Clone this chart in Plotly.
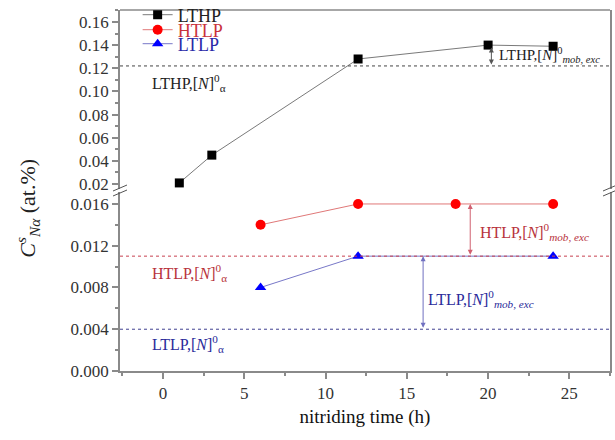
import plotly.graph_objects as go

# ---- data ----
lthp_t = [1, 3, 12, 20, 24]
lthp_c = [0.021, 0.045, 0.128, 0.140, 0.139]
htlp_t = [6, 12, 18, 24]
htlp_c = [0.014, 0.016, 0.016, 0.016]
ltlp_t = [6, 12, 24]
ltlp_c = [0.008, 0.011, 0.011]

lthp_alpha = 0.122
htlp_alpha = 0.011
ltlp_alpha = 0.004

x_ticks = [0, 5, 10, 15, 20, 25]
y_up_ticks = [0.02, 0.04, 0.06, 0.08, 0.10, 0.12, 0.14, 0.16]
y_lo_ticks = [0.000, 0.004, 0.008, 0.012, 0.016]

FONT = "Liberation Serif"
AX = "#8a8a8a"
TXT = "#333333"
RED_T = "#b8323c"
BLUE_T = "#2a2a9a"

fig = go.Figure()

fig.add_trace(go.Scatter(x=lthp_t, y=lthp_c, xaxis="x", yaxis="y2", mode="lines+markers",
                         name="LTHP", legend="legend", line=dict(color="#7a7a7a", width=1),
                         marker=dict(symbol="square", size=9, color="black")))
fig.add_trace(go.Scatter(x=htlp_t, y=htlp_c, xaxis="x", yaxis="y", mode="lines+markers",
                         name="HTLP", legend="legend2",
                         line=dict(color="#e07878", width=1),
                         marker=dict(symbol="circle", size=10, color="#ff0000")))
fig.add_trace(go.Scatter(x=ltlp_t, y=ltlp_c, xaxis="x", yaxis="y", mode="lines+markers",
                         name="LTLP", legend="legend3",
                         line=dict(color="#7878c8", width=1),
                         marker=dict(symbol="triangle-up", size=10, color="#0000ff")))

# reference (alpha) lines
shapes = [
    dict(type="line", xref="paper", x0=0, x1=1, yref="y2", y0=lthp_alpha, y1=lthp_alpha,
         line=dict(color="#444444", width=1, dash="dot")),
    dict(type="line", xref="paper", x0=0, x1=1, yref="y", y0=htlp_alpha, y1=htlp_alpha,
         line=dict(color="#c84050", width=1, dash="dot")),
    dict(type="line", xref="paper", x0=0, x1=1, yref="y", y0=ltlp_alpha, y1=ltlp_alpha,
         line=dict(color="#404090", width=1, dash="dot")),
    # top frame line
    dict(type="line", xref="paper", x0=0, x1=1, yref="paper", y0=1, y1=1,
         line=dict(color=AX, width=1.5)),
]
# axis-break slashes
px_x = 1 / 490.0
px_y = 1 / 361.0
for xb in (0, 1):
    for dy in (-2.5, 2.5):
        yc = 0.5 + dy * px_y
        shapes.append(dict(type="line", xref="paper", yref="paper",
                           x0=xb - 7 * px_x, y0=yc - 3 * px_y,
                           x1=xb + 7 * px_x, y1=yc + 3 * px_y,
                           line=dict(color="#555555", width=1)))

annots = []
FS = 16
sub_mob = "<sub><i>mob, exc</i></sub>"
annots.append(dict(x=-0.8, y=0.1074, xref="x", yref="y2", xanchor="left", showarrow=False,
                   text="LTHP,[<i>N</i>]<sup>0</sup><sub>α</sub>", font=dict(family=FONT, size=FS, color="#222")))
annots.append(dict(x=-0.8, y=0.0094, xref="x", yref="y", xanchor="left", showarrow=False,
                   text="HTLP,[<i>N</i>]<sup>0</sup><sub>α</sub>", font=dict(family=FONT, size=FS, color=RED_T)))
annots.append(dict(x=-0.8, y=0.0026, xref="x", yref="y", xanchor="left", showarrow=False,
                   text="LTLP,[<i>N</i>]<sup>0</sup><sub>α</sub>", font=dict(family=FONT, size=FS, color=BLUE_T)))
annots.append(dict(x=20.55, y=0.1316, xref="x", yref="y2", xanchor="left", showarrow=False,
                   text="LTHP,[<i>N</i>]<sup>0</sup>" + sub_mob, font=dict(family=FONT, size=15, color="#222")))
annots.append(dict(x=19.35, y=0.0133, xref="x", yref="y", xanchor="left", showarrow=False,
                   text="HTLP,[<i>N</i>]<sup>0</sup>" + sub_mob, font=dict(family=FONT, size=FS, color=RED_T)))
annots.append(dict(x=16.2, y=0.0069, xref="x", yref="y", xanchor="left", showarrow=False,
                   text="LTLP,[<i>N</i>]<sup>0</sup>" + sub_mob, font=dict(family=FONT, size=FS, color=BLUE_T)))
# double arrows
annots.append(dict(x=20.2, y=lthp_c[3] - 0.002, ax=20.2, ay=lthp_alpha, xref="x", yref="y2",
                   axref="x", ayref="y2", text="", showarrow=True, arrowhead=2, arrowside="end+start",
                   arrowsize=1, arrowwidth=1, arrowcolor="#555555"))
annots.append(dict(x=18.9, y=htlp_c[2], ax=18.9, ay=htlp_alpha, xref="x", yref="y",
                   axref="x", ayref="y", text="", showarrow=True, arrowhead=2, arrowside="end+start",
                   arrowsize=1, arrowwidth=1, arrowcolor="#d06070"))
annots.append(dict(x=16.0, y=ltlp_c[1], ax=16.0, ay=ltlp_alpha, xref="x", yref="y",
                   axref="x", ayref="y", text="", showarrow=True, arrowhead=2, arrowside="end+start",
                   arrowsize=1, arrowwidth=1, arrowcolor="#7070c0"))
# y title
annots.append(dict(x=-0.225, y=0.45, xref="paper", yref="paper", showarrow=False, textangle=-90,
                   text="<i>C</i><sup><i>s</i></sup><sub><i>N</i><i>α</i></sub> (at.%)",
                   font=dict(family=FONT, size=22, color="#222")))

common_y = dict(showline=True, linecolor=AX, linewidth=1.5, mirror=True, ticks="outside",
                ticklen=6, tickcolor=AX, tickwidth=1.5, showgrid=False, zeroline=False,
                tickfont=dict(family=FONT, size=17, color=TXT))


def leg(pix_y, color):
    return dict(x=0.036, y=(371 - pix_y) / 361.0, xanchor="left", yanchor="middle",
                bgcolor="rgba(0,0,0,0)", borderwidth=0,
                font=dict(family=FONT, size=18, color=color), itemwidth=30)


fig.update_layout(
    width=615, height=440, margin=dict(l=120, r=5, t=10, b=69, autoexpand=False),
    plot_bgcolor="white", paper_bgcolor="white",
    showlegend=True,
    legend=leg(15, "#222222"),
    legend2=leg(30, "#c8323c"),
    legend3=leg(44, "#2a2aa8"),
    xaxis=dict(domain=[0, 1], anchor="y", range=[-2.65, 27.5], tickvals=x_ticks,
               showline=True, linecolor=AX, linewidth=1.5, ticks="outside", ticklen=6,
               tickcolor=AX, tickwidth=1.5, showgrid=False, zeroline=False,
               minor=dict(dtick=2.5, tick0=0, ticks="outside", ticklen=3, tickcolor=AX, showgrid=False),
               tickfont=dict(family=FONT, size=17, color=TXT),
               title=dict(text="nitriding time (h)", font=dict(family=FONT, size=19, color="#111"), standoff=8)),
    yaxis=dict(domain=[0, 0.496], anchor="x", range=[0, 0.01715], tickvals=y_lo_ticks,
               tickformat=".3f",
               minor=dict(dtick=0.002, tick0=0, ticks="outside", ticklen=3, tickcolor=AX, showgrid=False),
               **common_y),
    yaxis2=dict(domain=[0.504, 1], anchor="x", range=[0.0157, 0.1703], tickvals=y_up_ticks,
                tickformat=".2f",
                minor=dict(dtick=0.01, tick0=0, ticks="outside", ticklen=3, tickcolor=AX, showgrid=False),
                **common_y),
    shapes=shapes,
    annotations=annots,
)

fig.write_html("out.html")
